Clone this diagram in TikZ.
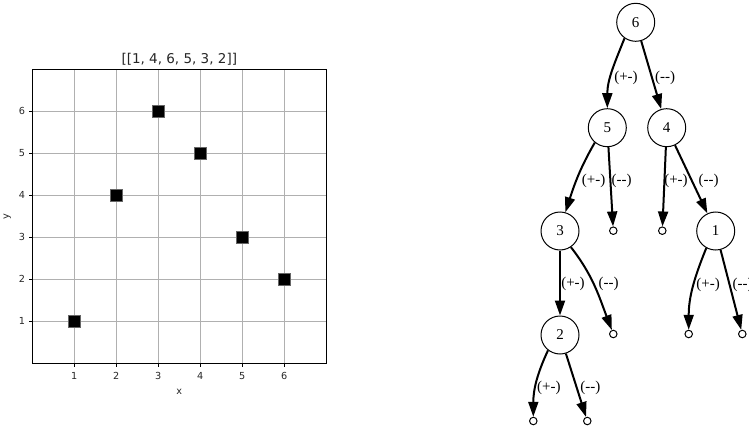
\documentclass[tikz,border=0pt]{standalone}
\usepackage{fontspec}
\newfontfamily\dvs{DejaVu Sans}
\newfontfamily\tms{Liberation Serif}
\usetikzlibrary{arrows.meta}
\begin{document}
\begin{tikzpicture}[x=1pt,y=1pt,
  vert/.style={circle,draw,line width=1pt,minimum size=38pt,inner sep=0pt,font=\tms\fontsize{15}{17}\selectfont},
  leaf/.style={circle,draw,line width=1pt,minimum size=7.5pt,inner sep=0pt},
  tedge/.style={line width=2pt,-{Triangle[length=15pt,width=10pt]}},
  lbl/.style={inner sep=0pt,font=\tms\fontsize{15}{17}\selectfont},
  gridline/.style={draw=black!31,line width=0.8pt},
  ticklbl/.style={inner sep=0pt,font=\dvs\fontsize{9.7}{11}\selectfont,text=black!85},
  sq/.style={rectangle,fill=black,draw=black!60,line width=0.5pt,minimum size=12pt,inner sep=0pt}
]
\useasboundingbox (0,0) rectangle (749,-428);
% ---------- plot ----------
\begin{scope}[shift={(32.3,-363.3)},x=42pt,y=42pt]
  \foreach \i in {1,...,6}{
    \draw[gridline] (\i,0) -- (\i,7);
    \draw[gridline] (0,\i) -- (7,\i);
    \draw[line width=0.8pt] (\i,0) -- ++(0,-3.5pt);
    \draw[line width=0.8pt] (0,\i) -- ++(-3.5pt,0);
    \node[ticklbl] (xt\i) at ([yshift=-12.7pt]\i,0) {\i};
    \node[ticklbl,anchor=east] (yt\i) at ([xshift=-7pt]0,\i) {\i};
  }
  \draw[line width=1pt] (0,0) rectangle (7,7);
  \node[sq] (p1) at (1,1) {};
  \node[sq] (p2) at (2,4) {};
  \node[sq] (p3) at (3,6) {};
  \node[sq] (p4) at (4,5) {};
  \node[sq] (p5) at (5,3) {};
  \node[sq] (p6) at (6,2) {};
  \node[inner sep=0pt,font=\dvs\fontsize{13.5}{15}\selectfont,text=black!85] (title) at ([yshift=10.3pt]3.5,7) {[[1, 4, 6, 5, 3, 2]]};
  \node[ticklbl] (xlab) at ([yshift=-28.4pt]3.5,0) {x};
  \node[ticklbl,rotate=90] (ylab) at ([xshift=-25pt]0,3.5) {y};
\end{scope}
% ---------- tree ----------
\node[vert] (n6) at (635.7,-22.3) {6};
\node[vert] (n5) at (607.3,-127.7) {5};
\node[vert] (n4) at (666.7,-127.7) {4};
\node[vert] (n3) at (560,-231) {3};
\node[leaf] (l5) at (613.3,-230.7) {};
\node[leaf] (l4) at (662.3,-230.7) {};
\node[vert] (n1) at (715.7,-231) {1};
\node[vert] (n2) at (560,-335) {2};
\node[leaf] (l3) at (613.3,-334) {};
\node[leaf] (l1a) at (688.7,-334) {};
\node[leaf] (l1b) at (742.3,-334) {};
\node[leaf] (l2a) at (533.3,-421) {};
\node[leaf] (l2b) at (587.3,-421) {};

\draw[tedge] (n6.-125) to[out=-112,in=90] (n5.north);
\draw[tedge] (n6) -- (n4);
\draw[tedge] (n5.-130) to[out=-120,in=72] (n3.74);
\draw[tedge] (n5) -- (l5);
\draw[tedge] (n4) -- (l4);
\draw[tedge] (n4) -- (n1);
\draw[tedge] (n3) -- (n2);
\draw[tedge] (n3.-56) to[out=-52,in=111] (l3.110);
\draw[tedge] (n1.-119) to[out=-112,in=90] (l1a.north);
\draw[tedge] (n1) -- (l1b);
\draw[tedge] (n2.-128) to[out=-115,in=90] (l2a.north);
\draw[tedge] (n2) -- (l2b);

\node[lbl] (a65) at (626,-78.3) {(+-)};
\node[lbl] (a64) at (665,-78.3) {(--)};
\node[lbl] (a53) at (593.7,-181) {(+-)};
\node[lbl] (a5l) at (621.7,-181) {(--)};
\node[lbl] (a4l) at (676,-181) {(+-)};
\node[lbl] (a41) at (708.7,-181) {(--)};
\node[lbl] (a32) at (573,-283.7) {(+-)};
\node[lbl] (a3l) at (608.7,-283.7) {(--)};
\node[lbl] (a1a) at (708.2,-285) {(+-)};
\node[lbl] (a1b) at (742.5,-285) {(--)};
\node[lbl] (a2a) at (548.8,-388.3) {(+-)};
\node[lbl] (a2b) at (590.3,-388.3) {(--)};
\end{tikzpicture}
\end{document}
